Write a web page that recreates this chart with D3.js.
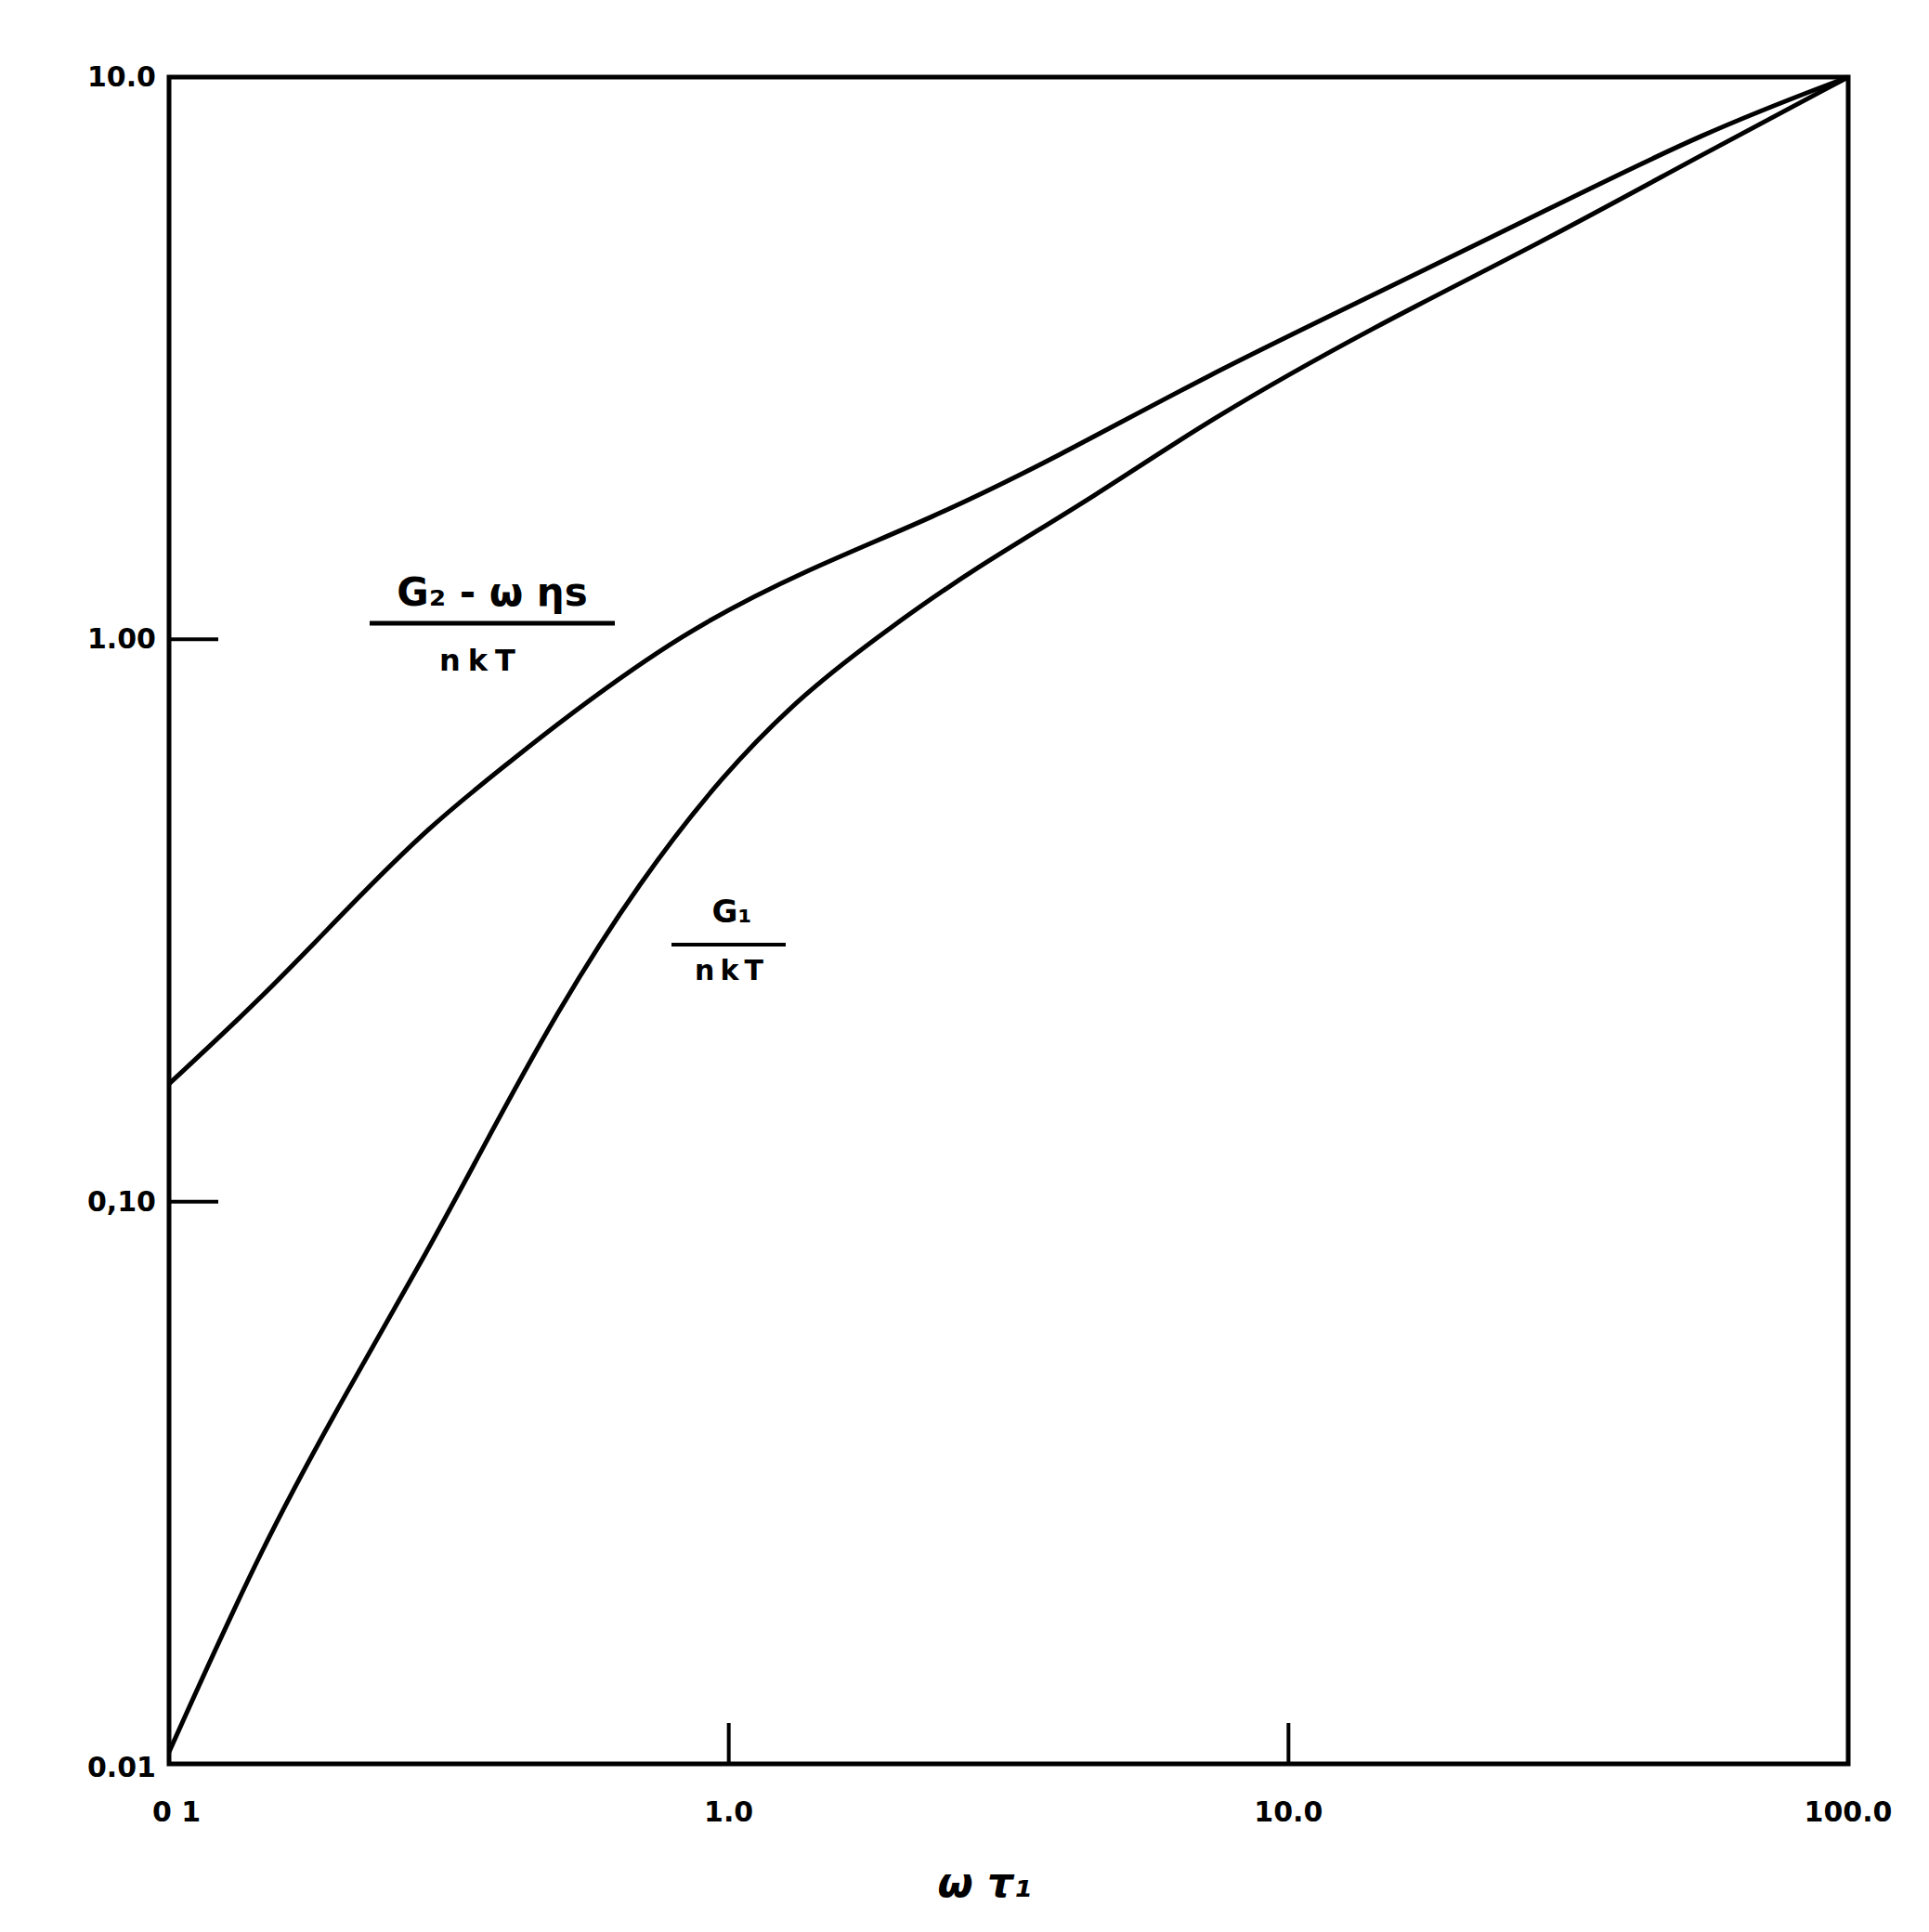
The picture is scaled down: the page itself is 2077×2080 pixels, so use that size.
<!DOCTYPE html><html><head><script src="https://d3js.org/d3.v7.min.js"></script>
<style>body{margin:0;background:#fff}text{font-family:"DejaVu Sans",sans-serif;font-weight:bold;fill:#000}</style></head><body>
<svg id="c" width="2077" height="2080"></svg>
<script>
const xTickVals=[0.1,1,10,100], xTickLabels=["0 1","1.0","10.0","100.0"];
const yTickVals=[0.01,0.1,1,10], yTickLabels=["0.01","0,10","1.00","10.0"];
const g2X=[0.1,0.1476,0.2075,0.292,0.411,0.494,0.824,1.374,2.30,3.83,7.16,14.2,28.0,55.5,100];
const g2Y=[0.162,0.232,0.331,0.466,0.611,0.708,1.028,1.33,1.64,2.10,2.95,4.10,5.71,8.0,10];
const g1X=[0.1,0.1476,0.2075,0.292,0.353,0.494,0.693,0.978,1.374,1.93,2.72,4.53,7.16,14.2,28.0,55.5,100];
const g1Y=[0.0105,0.0248,0.0458,0.0828,0.118,0.219,0.371,0.577,0.809,1.045,1.33,1.80,2.45,3.60,5.05,7.33,10];
const L=182,T=83,W=1808,H=1816;
const svg=d3.select("#c");
const x=d3.scaleLog().domain([0.1,100]).range([L,L+W]);
const y=d3.scaleLog().domain([0.01,10]).range([T+H,T]);
svg.append("rect").attr("x",L).attr("y",T).attr("width",W).attr("height",H).attr("fill","none").attr("stroke","#000").attr("stroke-width",5);
[1,10].forEach(v=>svg.append("line").attr("x1",x(v)).attr("x2",x(v)).attr("y1",T+H).attr("y2",T+H-44).attr("stroke","#000").attr("stroke-width",4));
[0.1,1].forEach(v=>svg.append("line").attr("x1",L).attr("x2",L+53).attr("y1",y(v)).attr("y2",y(v)).attr("stroke","#000").attr("stroke-width",4));
xTickVals.forEach((v,i)=>svg.append("text").attr("x",x(v)+(i==0?8:0)).attr("y",T+H+62).attr("text-anchor","middle").attr("font-size",30).text(xTickLabels[i]));
yTickVals.forEach((v,i)=>svg.append("text").attr("x",L-14).attr("y",y(v)+(i==0?14:10)).attr("text-anchor","end").attr("font-size",30).text(yTickLabels[i]));
const line=d3.line().x(d=>x(d[0])).y(d=>y(d[1])).curve(d3.curveBasis);
[[g2X,g2Y],[g1X,g1Y]].forEach(([a,b])=>svg.append("path").attr("d",line(a.map((v,i)=>[v,b[i]]))).attr("fill","none").attr("stroke","#000").attr("stroke-width",5));
svg.append("text").attr("x",530).attr("y",652).attr("text-anchor","middle").attr("font-size",42).attr("font-weight","normal").text("G₂ - ω ηs");
svg.append("line").attr("x1",398).attr("x2",662).attr("y1",671).attr("y2",671).attr("stroke","#000").attr("stroke-width",5);
svg.append("text").attr("x",518).attr("y",722).attr("text-anchor","middle").attr("font-size",32).attr("letter-spacing",8).text("nkT");
svg.append("text").attr("x",788).attr("y",993).attr("text-anchor","middle").attr("font-size",34).attr("font-weight","normal").text("G₁");
svg.append("line").attr("x1",723).attr("x2",846).attr("y1",1017).attr("y2",1017).attr("stroke","#000").attr("stroke-width",4);
svg.append("text").attr("x",788).attr("y",1055).attr("text-anchor","middle").attr("font-size",30).attr("letter-spacing",6).text("nkT");
svg.append("text").attr("x",1060).attr("y",2042).attr("text-anchor","middle").attr("font-size",44).attr("font-weight","normal").attr("font-style","italic").text("ω τ₁");
</script></body></html>
